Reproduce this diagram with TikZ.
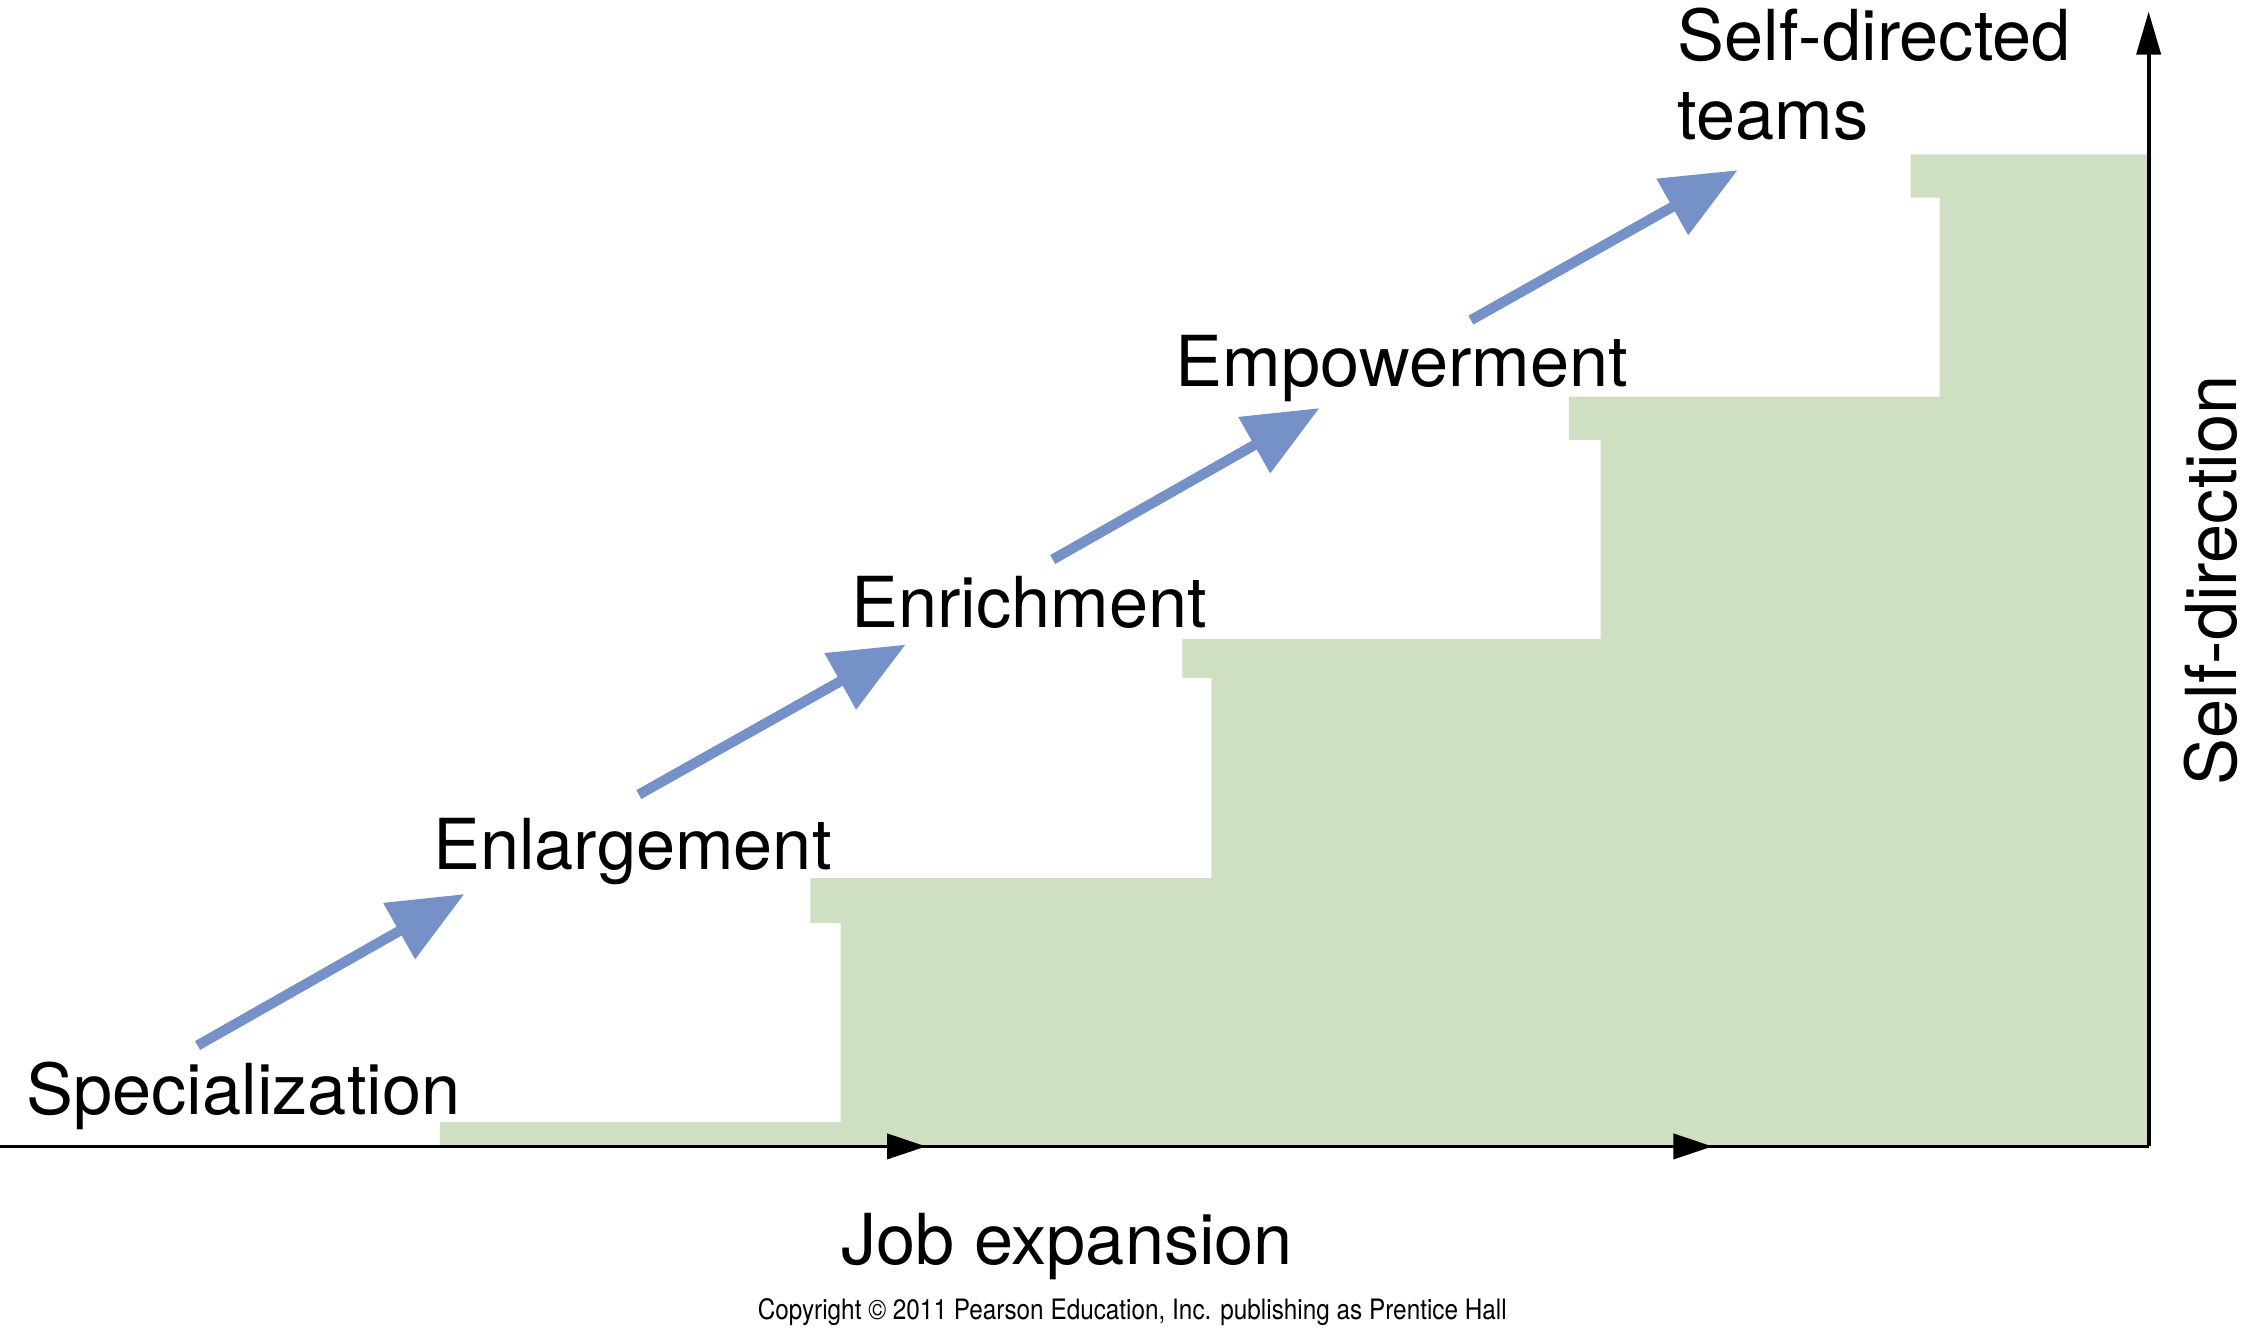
\documentclass[tikz,border=0pt]{standalone}
\usepackage{fontspec}
\setmainfont{TeX Gyre Heros}
\usetikzlibrary{arrows.meta,positioning,decorations.markings}
\definecolor{stepgreen}{RGB}{206,224,193}
\definecolor{arrowblue}{RGB}{117,145,200}

\begin{document}
\begin{tikzpicture}[
        x=0.1442mm, y=-0.1442mm,
        lbl/.style={anchor=base west, inner sep=0pt, font=\fontsize{20}{22.5}\selectfont},
        small/.style={anchor=base west, inner sep=0pt, font=\fontsize{8}{9}\selectfont},
        axis/.style={line width=1.1pt, black},
        stair/.style={line width=2.9pt, arrowblue, -{Triangle[length=7.5mm, width=6.2mm]}},
        midarrows/.style={postaction={decorate}, decoration={markings,
            mark=at position 0.431 with {\arrow{Triangle[length=3.9mm, width=2.5mm]}},
            mark=at position 0.797 with {\arrow{Triangle[length=3.9mm, width=2.5mm]}}}}
    ]
    \useasboundingbox (0,0) rectangle (1560.3,928.6);

    % Staircase
    \fill[stepgreen] (305,795) -- (305,778) -- (583,778) -- (583,640) -- (562,640) -- (562,609)
        -- (840,609) -- (840,470) -- (820,470) -- (820,443) -- (1110,443) -- (1110,305)
        -- (1088,305) -- (1088,275) -- (1345,275) -- (1345,137) -- (1325,137) -- (1325,107)
        -- (1490,107) -- (1490,795) -- cycle;

    % Axes
    \coordinate (o) at (0,795);
    \coordinate (c) at (1490,795);
    \coordinate (t) at (1490,8);
    \draw[axis, midarrows] (o) -- (c);
    \draw[axis, -{Triangle[length=4.3mm, width=2.4mm]}] (c) -- (t);

    % Stages
    \node[lbl] (spec) at (18,773) {Specialization};
    \node[lbl] (enl) at (300,603) {Enlargement};
    \node[lbl] (enr) at (590,435) {Enrichment};
    \node[lbl] (emp) at (815,268) {Empowerment};
    \node[lbl, align=left] (sdt) at (1163,97) {Self-directed\\teams};

    % Stage arrows
    \coordinate (s1) at (137,725);
    \coordinate (e1) at (322,620);
    \coordinate (s2) at (443,551);
    \coordinate (e2) at (628,447);
    \coordinate (s3) at (730,388);
    \coordinate (e3) at (915,283);
    \coordinate (s4) at (1020,222);
    \coordinate (e4) at (1205,118);
    \draw[stair] (s1) -- (e1);
    \draw[stair] (s2) -- (e2);
    \draw[stair] (s3) -- (e3);
    \draw[stair] (s4) -- (e4);

    % Axis labels
    \node[lbl] (job) at (583,877) {Job expansion};
    \node[lbl, rotate=90] (sdir) at (1551,545) {Self-direction};
    \node[small] (copy) at (525,915) {\scalebox{0.865}[1]{Copyright © 2011 Pearson Education, Inc. publishing as Prentice Hall}};

\end{tikzpicture}
\end{document}
